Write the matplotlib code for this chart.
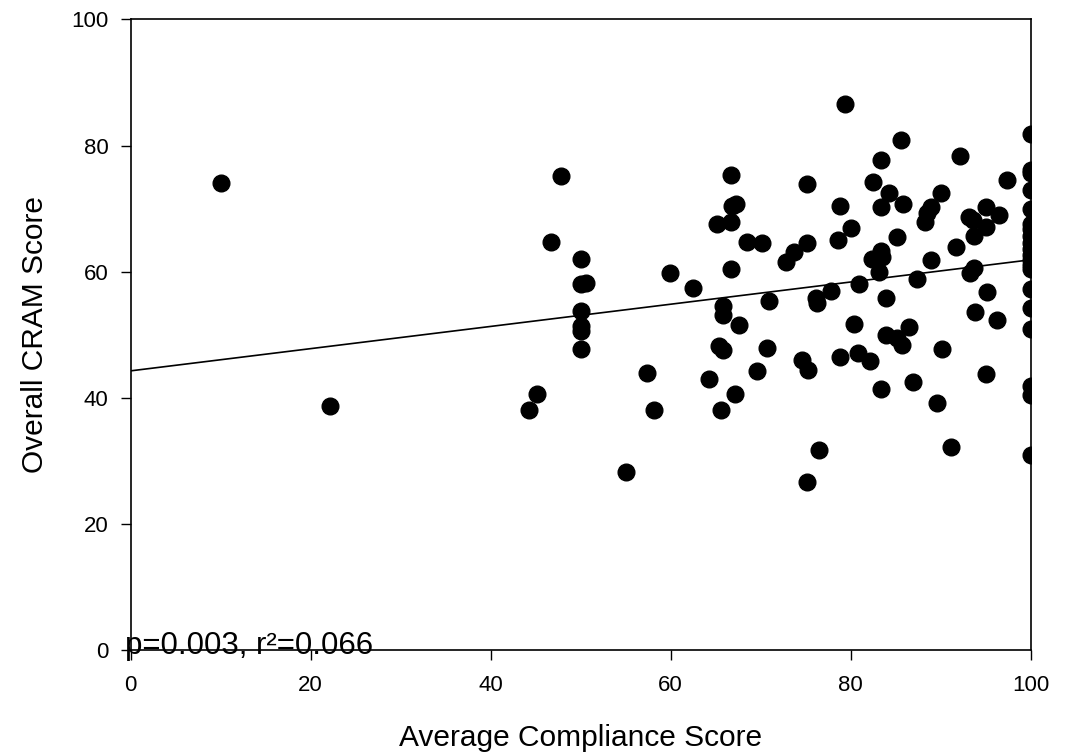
import matplotlib
matplotlib.use("Agg")
import matplotlib.pyplot as plt
import numpy as np

plt.rcParams['font.family'] = ['Liberation Sans', 'DejaVu Sans']

# Average compliance score (x) and overall CRAM score (y)
compliance = [
    10.0, 22.2, 44.3, 45.2, 46.7, 47.8,
    50.0, 50.0, 50.6, 50.0, 50.0, 50.0, 50.0,
    55.0, 57.4, 58.2, 59.9,
    62.5, 64.3, 65.1, 65.6, 65.4, 65.8, 65.8, 65.8, 66.7, 66.8, 67.3, 66.7,
    66.7, 67.1, 67.6, 68.5, 69.6, 70.2, 70.7, 70.9, 72.8, 73.7, 74.6, 75.1,
    75.1, 75.1, 75.3, 76.1, 76.3, 76.5, 77.8, 78.6, 78.8, 78.8, 79.4,
    80.0, 80.4, 80.8, 80.9, 82.2, 82.4, 82.5, 83.1, 83.4, 83.4, 83.4, 83.5,
    83.4, 83.9, 83.9, 84.2, 85.1, 85.1, 85.6, 85.7, 85.8, 86.5, 86.9, 87.4,
    88.3, 88.5, 88.9, 88.9, 89.6, 90.0, 90.1, 91.1, 91.7, 92.1, 93.1, 93.6,
    93.7, 93.7, 93.3, 93.8, 95.0, 95.0, 95.1, 95.0, 96.2, 96.5, 97.4,
    100, 100, 100, 100, 100, 100, 100, 100, 100, 100,
    100, 100, 100, 100, 100, 100, 100, 100, 100, 100,
]
cram = [
    74.1, 38.7, 38.1, 40.6, 64.7, 75.1,
    62.0, 58.1, 58.2, 53.8, 51.4, 50.6, 47.7,
    28.2, 44.0, 38.1, 59.8,
    57.4, 43.0, 67.6, 38.1, 48.2, 47.6, 54.5, 53.2, 75.4, 70.4, 70.7, 67.9,
    60.4, 40.6, 51.5, 64.7, 44.3, 64.6, 48.0, 55.4, 61.6, 63.2, 46.1, 73.9,
    64.5, 26.7, 44.4, 55.8, 55.1, 31.8, 57.0, 65.1, 70.4, 46.5, 86.6,
    67.0, 51.8, 47.2, 58.1, 45.8, 62.1, 74.3, 60.0, 77.7, 70.3, 63.3, 62.4,
    41.4, 55.8, 50.0, 72.5, 65.5, 49.5, 80.8, 48.4, 70.7, 51.2, 42.6, 58.8,
    67.9, 69.3, 70.3, 61.8, 39.2, 72.5, 47.7, 32.3, 64.0, 78.3, 68.7, 68.2,
    65.7, 60.6, 59.8, 53.7, 70.2, 67.1, 56.8, 43.8, 52.4, 69.0, 74.5,
    81.9, 76.2, 75.6, 73.0, 70.0, 67.6, 66.7, 65.6, 64.5, 63.6,
    62.6, 61.8, 61.0, 60.4, 57.3, 54.3, 50.9, 41.9, 40.5, 31.0,
]

# regression line
intercept = 44.3
slope = 0.176
stats_text = "p=0.003, r\u00b2=0.066"

fig = plt.figure(figsize=(10.7, 7.54), dpi=100)
ax = fig.add_axes([0.122, 0.1373, 0.8413, 0.8371])

ax.plot(compliance, cram, 'o', color='black', markersize=12, linestyle='none')
xfit = np.array([0, 100])
ax.plot(xfit, intercept + slope * xfit, color='black', linewidth=1.2)

ax.set_xlim(0, 100)
ax.set_ylim(0, 100)
ax.set_xticks(np.arange(0, 101, 20))
ax.set_yticks(np.arange(0, 101, 20))
ax.tick_params(direction='out', length=7, width=1, labelsize=16, pad=9)
ax.tick_params(axis='x', pad=11)
for s in ax.spines.values():
    s.set_linewidth(1.2)

ax.set_xlabel("Average Compliance Score", fontsize=21.5, labelpad=20)
ax.set_ylabel("Overall CRAM Score", fontsize=21.5, labelpad=16)

ax.text(-0.6, -0.6, stats_text, fontsize=22.5, ha='left', va='baseline', clip_on=False)

fig.savefig("out.png", dpi=100)
